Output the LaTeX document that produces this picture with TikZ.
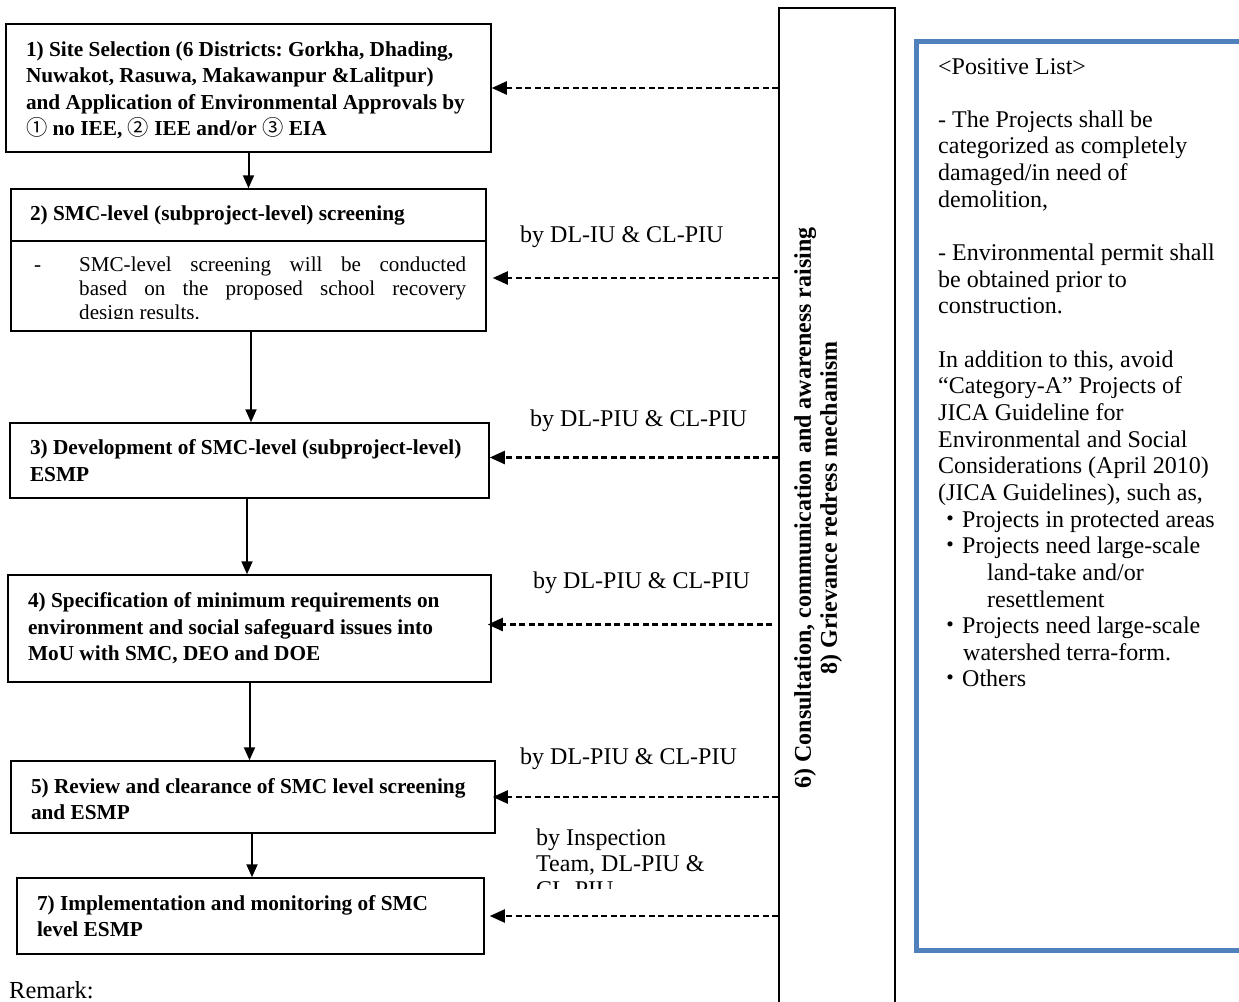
\documentclass[tikz,border=0pt]{standalone}
\usepackage{fontspec}
\setmainfont{Liberation Serif}
\newfontfamily\cjkfont{Noto Sans CJK JP}
\usetikzlibrary{arrows.meta}
\definecolor{panelblue}{RGB}{79,129,189}
\newcommand\stepfont{\fontsize{21.3pt}{26.4pt}\selectfont\bfseries}
\newcommand\notefont{\fontsize{21.1pt}{24pt}\selectfont}
\newcommand\plainfont{\fontsize{24pt}{26.65pt}\selectfont}
\newcommand\sidefont{\fontsize{24pt}{26pt}\selectfont\bfseries}
\begin{document}
\begin{tikzpicture}[x=1pt,y=-1pt,
  every node/.style={execute at begin node={\spaceskip=0pt\xspaceskip=0pt\frenchspacing}},
  stepbox/.style={draw, line width=1.5pt, inner xsep=20pt, inner ysep=0pt, align=left, font=\stepfont},
  flow/.style={line width=2pt, -{Triangle[length=13pt,width=11pt]}},
  feedback/.style={line width=2.3pt, dash pattern=on 6pt off 3.5pt, -{Triangle[length=15pt,width=13pt]}},
  lbl/.style={inner sep=0pt, anchor=base west, font=\plainfont}]
\useasboundingbox (0,0) rectangle (1239,1001);

% ---- process steps ----
\node[stepbox, minimum width=485pt, minimum height=128pt, text width=445pt] (b1) at (248.5,88)
  {\rule{0pt}{19pt}1) Site Selection (6 Districts: Gorkha, Dhading,\\Nuwakot, Rasuwa, Makawanpur \&Lalitpur)\\\mbox{and Application of Environmental Approvals by}\\{\cjkfont\mdseries ①} no IEE, {\cjkfont\mdseries ②} IEE and/or {\cjkfont\mdseries ③} EIA};

\node[stepbox, inner xsep=19pt, minimum width=475pt, minimum height=52pt, text width=437pt] (b2t) at (248.5,215)
  {2) SMC-level (subproject-level) screening};
\node[draw, line width=1.5pt, minimum width=475pt, minimum height=90pt, inner sep=0pt] (b2b) at (248.5,286) {};
\begin{scope}
  \clip (11,241) rectangle (486,318.5);
  \node[inner sep=0pt, anchor=base west, font=\notefont, text width=440pt, align=left] (b2note) at (34,271)
    {\makebox[45pt][l]{-}\parbox[t]{387pt}{\spaceskip=0pt\xspaceskip=0pt
      \makebox[387pt][s]{SMC-level screening will be conducted}\\
      \makebox[387pt][s]{based on the proposed school recovery}\\
      design results.}};
\end{scope}

\node[stepbox, minimum width=479pt, minimum height=75pt, text width=439pt] (b3) at (249.5,460.5)
  {\mbox{3) Development of SMC-level (subproject-level)}\\ESMP};
\node[stepbox, minimum width=483pt, minimum height=107pt, text width=443pt] (b4) at (249.5,628.5)
  {4) Specification of minimum requirements on\\environment and social safeguard issues into\\MoU with SMC, DEO and DOE};
\node[stepbox, minimum width=484pt, minimum height=72pt, text width=444pt] (b5) at (253,797)
  {\rule{0pt}{19pt}\mbox{5) Review and clearance of SMC level screening}\\and ESMP};
\node[stepbox, minimum width=467pt, minimum height=76pt, text width=427pt] (b7) at (250.5,916)
  {7) Implementation and monitoring of SMC\\level ESMP};

\node[lbl, font=\fontsize{24.5pt}{26pt}\selectfont] (remark) at (9,998) {Remark:};

% ---- flow between steps ----
\draw[flow] (b1.south) -- (b1.south |- b2t.north);
\draw[flow] ([xshift=2.5pt]b2b.south) -- ([xshift=2.5pt]b2b.south |- b3.north);
\draw[flow] ([xshift=-2.5pt]b3.south) -- ([xshift=-2.5pt]b3.south |- b4.north);
\draw[flow] (b4.south) -- (b4.south |- b5.north);
\draw[flow] ([xshift=-1pt]b5.south) -- ([xshift=-1pt]b5.south |- b7.north);

% ---- cross-cutting activities ----
\node[draw, line width=1.5pt, minimum width=116pt, minimum height=1002pt, inner sep=0pt] (vb) at (837,509) {};
\node[rotate=90, align=center, font=\sidefont, inner sep=0pt] (vt) at (818,508)
  {6) Consultation, communication and awareness raising\\8) Grievance redress mechanism};

\coordinate (a2) at ([yshift=8pt]b2b.east);
\coordinate (a3) at ([yshift=3pt]b3.east);
\coordinate (a4) at ([yshift=4pt]b4.east);
\draw[feedback] (vb.west |- b1.east) -- (b1.east);
\draw[feedback, shorten >=6pt] (vb.west |- a2) -- (a2);
\draw[feedback] (vb.west |- a3) -- (a3);
\draw[feedback, shorten <=6pt, shorten >=-4pt] (vb.west |- a4) -- (a4);
\draw[feedback, shorten >=-3pt] (vb.west |- b5.east) -- (b5.east);
\draw[feedback, shorten >=5pt] (vb.west |- b7.east) -- (b7.east);

% ---- responsibilities ----
\node[lbl] (l2) at (520,242) {by DL-IU \& CL-PIU};
\node[lbl] (l3) at (530,426) {by DL-PIU \& CL-PIU};
\node[lbl] (l4) at (533,588) {by DL-PIU \& CL-PIU};
\node[lbl] (l5) at (520,764) {by DL-PIU \& CL-PIU};
\begin{scope}
  \clip (500,800) rectangle (770,888);
  \node[lbl, text width=230pt, align=left, font=\fontsize{24pt}{26pt}\selectfont] (l7) at (536,845)
    {by Inspection\\Team, DL-PIU \&\\CL-PIU};
\end{scope}

% ---- positive list ----
\node[draw=panelblue, line width=5pt, minimum width=334pt, minimum height=909pt, inner sep=0pt] (plist) at (1083,495.5) {};
\node[lbl, text width=320pt, align=left] (ptext) at (938,74)
  {<Positive List>\\[26.65pt]
   - The Projects shall be\\
   categorized as completely\\
   damaged/in need of\\
   demolition,\\[26.65pt]
   - Environmental permit shall\\
   be obtained prior to\\
   construction.\\[26.65pt]
   In addition to this, avoid\\
   “Category-A” Projects of\\
   JICA Guideline for\\
   Environmental and Social\\
   Considerations (April 2010)\\
   (JICA Guidelines), such as,\\
   {\cjkfont ・}Projects in protected areas\\
   {\cjkfont ・}Projects need large-scale\\
   \hspace*{49pt}land-take and/or\\
   \hspace*{49pt}resettlement\\
   {\cjkfont ・}Projects need large-scale\\
   \hspace*{25pt}watershed terra-form.\\
   {\cjkfont ・}Others};
\end{tikzpicture}
\end{document}
